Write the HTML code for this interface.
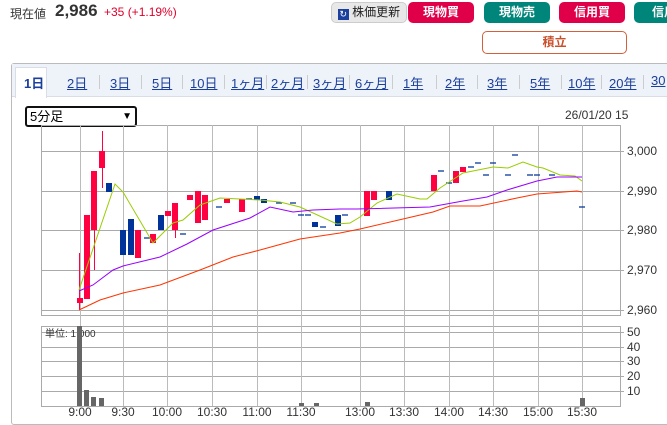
<!DOCTYPE html>
<html><head><meta charset="utf-8"><style>
body{margin:0;width:667px;height:418px;overflow:hidden;background:#fff;font-family:"Liberation Sans","Noto Sans CJK JP",sans-serif;position:relative}
.a{position:absolute;white-space:nowrap}
.btn{position:absolute;top:2px;height:21px;border-radius:5px;color:#fff;font-size:12px;font-weight:bold;text-align:center;line-height:21px}
.tab{position:absolute;top:73px;font-size:13px;color:#1a3f9c;text-decoration:underline}
.sep{position:absolute;top:75px;width:1px;height:14px;background:#ccc}
</style></head><body>
<div class="a" style="left:10px;top:5px;font-size:12px;color:#333">現在値</div>
<div class="a" style="left:55px;top:1px;font-size:17px;font-weight:bold;color:#333">2,986</div>
<div class="a" style="left:104px;top:5px;font-size:12px;color:#e0002a">+35 (+1.19%)</div>
<div class="btn" style="left:331px;width:74px;background:#e8e8e8;border:1px solid #ccc;color:#222;font-weight:normal;height:19px;line-height:19px;top:2px"><span style="display:inline-block;width:11px;height:11px;background:#1a3f9c;color:#fff;font-size:9px;line-height:11px;vertical-align:-1px">↻</span> 株価更新</div>
<div class="btn" style="left:408px;width:66px;background:#e0004a">現物買</div>
<div class="btn" style="left:484px;width:66px;background:#00857a">現物売</div>
<div class="btn" style="left:559px;width:66px;background:#e0004a">信用買</div>
<div class="btn" style="left:634px;width:60px;background:#00857a">信用</div>
<div class="a" style="left:482px;top:31px;width:143px;height:21px;border:1px solid #d2603a;border-radius:5px;text-align:center;line-height:21px;color:#c8502b;font-size:12px;font-weight:bold">積立</div>
<div class="a" style="left:11px;top:63px;width:670px;height:360px;border:1px solid #bbb;border-radius:3px"></div>
<div class="a" style="left:12px;top:64px;width:660px;height:32px;background:#eef2f9;border-bottom:1px solid #d8dde8"></div>
<div class="a" style="left:15px;top:67px;width:30px;height:30px;background:#fff;border:1px solid #d8dde8;border-bottom:none"></div>
<div class="a" style="left:24px;top:73px;font-size:13px;color:#1a3f9c;font-weight:bold">1日</div>
<div class="tab" style="left:67px">2日</div><div class="tab" style="left:110px">3日</div><div class="tab" style="left:152px">5日</div><div class="tab" style="left:190px">10日</div><div class="tab" style="left:231px">1ヶ月</div><div class="tab" style="left:271px">2ヶ月</div><div class="tab" style="left:313px">3ヶ月</div><div class="tab" style="left:355px">6ヶ月</div><div class="tab" style="left:403px">1年</div><div class="tab" style="left:445px">2年</div><div class="tab" style="left:487px">3年</div><div class="tab" style="left:530px">5年</div><div class="tab" style="left:568px">10年</div><div class="tab" style="left:609px">20年</div><div class="tab" style="left:651px">30</div>
<div class="sep" style="left:99px"></div><div class="sep" style="left:141px"></div><div class="sep" style="left:182px"></div><div class="sep" style="left:224px"></div><div class="sep" style="left:266px"></div><div class="sep" style="left:307px"></div><div class="sep" style="left:349px"></div><div class="sep" style="left:392px"></div><div class="sep" style="left:436px"></div><div class="sep" style="left:477px"></div><div class="sep" style="left:519px"></div><div class="sep" style="left:561px"></div><div class="sep" style="left:601px"></div><div class="sep" style="left:643px"></div>
<div class="a" style="left:25px;top:106px;width:105px;height:17px;border:2px solid #111;border-radius:3px;font-size:13px;line-height:17px;padding-left:3px;box-sizing:content-box">5分足<span style="position:absolute;right:3px;font-size:10px">▼</span></div>
<div class="a" style="left:565px;top:108px;font-size:12px;color:#333">26/01/20 15</div>
<svg class="a" style="left:0;top:0" width="667" height="418">
<g stroke="#aaa" stroke-width="1" fill="none">
<rect x="41.5" y="125.5" width="579" height="190"/>
<line x1="41" y1="151.5" x2="620" y2="151.5"/><line x1="41" y1="191.5" x2="620" y2="191.5"/><line x1="41" y1="230.5" x2="620" y2="230.5"/><line x1="41" y1="270.5" x2="620" y2="270.5"/><line x1="41" y1="310.5" x2="620" y2="310.5"/>
<rect x="41.5" y="326.5" width="579" height="80"/>
<line x1="41" y1="332.5" x2="620" y2="332.5"/><line x1="41" y1="347.5" x2="620" y2="347.5"/><line x1="41" y1="361.5" x2="620" y2="361.5"/><line x1="41" y1="376.5" x2="620" y2="376.5"/><line x1="41" y1="391.5" x2="620" y2="391.5"/>
<g stroke="#bbb">
<path d="M80.5 125V406M123.5 125V406M167.5 125V406M212.5 125V406M257.5 125V406M301.5 125V406M360.5 125V406M404.5 125V406M449.5 125V406M493.5 125V406M538.5 125V406M582.5 125V406"/>
</g>
<path d="M620 151.5h4M620 191.5h4M620 230.5h4M620 270.5h4M620 310.5h4M620 332.5h4M620 347.5h4M620 361.5h4M620 376.5h4M620 391.5h4"/>
</g>
<g font-size="12" fill="#333" font-family="Liberation Sans,sans-serif">
<text x="627" y="155">3,000</text><text x="627" y="195">2,990</text><text x="627" y="234">2,980</text><text x="627" y="274">2,970</text><text x="627" y="314">2,960</text>
<text x="627" y="336">50</text><text x="627" y="351">40</text><text x="627" y="365">30</text><text x="627" y="380">20</text><text x="627" y="395">10</text>
<g text-anchor="middle"><text x="80" y="416">9:00</text><text x="123" y="416">9:30</text><text x="167" y="416">10:00</text><text x="212" y="416">10:30</text><text x="257" y="416">11:00</text><text x="301" y="416">11:30</text><text x="360" y="416">13:00</text><text x="404" y="416">13:30</text><text x="449" y="416">14:00</text><text x="493" y="416">14:30</text><text x="538" y="416">15:00</text><text x="582" y="416">15:30</text></g>
<text x="45" y="337" font-size="10" font-family="Liberation Sans,Noto Sans CJK JP,sans-serif">単位: 1,000</text>
</g>
<g stroke="#ff0040" stroke-width="1"><path d="M79.5 253V310M86.5 215V299M94.5 215V270M102.5 131V188M138.5 230V258M175.5 203V238"/></g>
<g fill="#ff0040">
<rect x="77" y="298" width="6" height="5"/><rect x="84" y="215" width="6" height="84"/><rect x="91" y="171" width="6" height="59"/><rect x="99" y="151" width="6" height="17"/>
<rect x="135" y="230" width="6" height="28"/><rect x="150" y="234" width="6" height="9"/><rect x="165" y="211" width="6" height="5"/><rect x="172" y="203" width="6" height="27"/>
<rect x="187" y="195" width="6" height="5"/><rect x="195" y="191" width="6" height="32"/><rect x="202" y="195" width="6" height="25"/><rect x="224" y="199" width="6" height="4"/><rect x="239" y="199" width="6" height="13"/>
<rect x="364" y="191" width="6" height="25"/><rect x="371" y="191" width="6" height="9"/><rect x="431" y="175" width="6" height="16"/><rect x="453" y="171" width="6" height="12"/><rect x="460" y="167" width="6" height="5"/>
</g>
<g fill="#003399">
<rect x="106" y="183" width="6" height="9"/><rect x="120" y="230" width="6" height="25"/><rect x="128" y="219" width="6" height="36"/><rect x="158" y="215" width="6" height="15"/>
<rect x="254" y="196" width="6" height="4"/><rect x="261" y="199" width="6" height="4"/><rect x="312" y="222" width="6" height="5"/><rect x="335" y="215" width="6" height="11"/><rect x="386" y="191" width="6" height="9"/>
</g>
<g stroke="#003399" stroke-width="1.3"><path d="M144 238h6M180 234h6M216 207h6M246 199h6M276 203h6M290 203h6M298 215h6M305 215h6M320 227h6M342 215h6M438 171h6M446 183h6M468 167h6M475 163h6M483 175h6M490 163h6M505 175h6M512 155h6M527 175h6M534 175h6M549 175h6M579 207h6"/></g>
<polyline fill="none" stroke="#99cc00" stroke-width="1" points="79,290 115,184 123,192 153,243 173,223 183,220 200,205 220,198 260,200 280,202 300,207 337,224 350,223 360,217 377,203 397,194 420,199 427,199 440,188 463,173 493,167 508,168 523,162 537,167 543,168 560,175 575,176 582,181"/>
<polyline fill="none" stroke="#9900ff" stroke-width="1" points="79,291 93,285 113,270 123,266 160,257 187,244 213,230 250,218 270,207 293,212 313,210 340,209 357,209 430,207 463,201 487,197 507,190 537,181 557,177 582,177"/>
<polyline fill="none" stroke="#ff3300" stroke-width="1" points="79,310 100,300 123,293 160,285 200,270 233,257 260,250 300,239 340,233 360,229 403,219 433,212 450,206 480,206 517,198 537,194 577,191 582,192"/>
<g fill="#666">
<rect x="77" y="326" width="5" height="80"/><rect x="84" y="390" width="5" height="16"/><rect x="91" y="397" width="5" height="9"/><rect x="99" y="398" width="5" height="8"/>
<rect x="299" y="403" width="5" height="3"/><rect x="314" y="403" width="5" height="3"/><rect x="365" y="402" width="5" height="4"/><rect x="580" y="398" width="5" height="8"/>
</g>
</svg>
</body></html>
